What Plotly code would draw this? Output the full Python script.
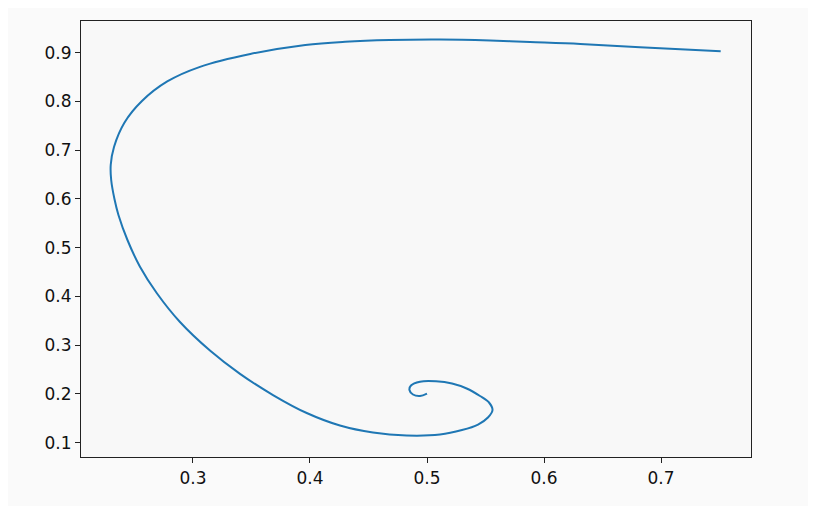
import plotly.graph_objects as go

x_vals = [0.751, 0.682, 0.631, 0.588, 0.554, 0.511, 0.468, 0.430, 0.396, 0.349,
          0.306, 0.278, 0.2564, 0.2415, 0.2325, 0.2297, 0.2301, 0.2329, 0.2363, 0.2440,
          0.2547, 0.2690, 0.2889, 0.3145, 0.3402, 0.3684, 0.3972, 0.4256, 0.4538, 0.4826,
          0.5111, 0.5299, 0.5436, 0.5521, 0.5560, 0.5530, 0.5453, 0.5339, 0.5214, 0.5077,
          0.4940, 0.4863, 0.4850, 0.4880, 0.4940, 0.5000]
y_vals = [0.903, 0.911, 0.918, 0.922, 0.925, 0.927, 0.926, 0.9224, 0.9158, 0.8973,
          0.871, 0.841, 0.8009, 0.7568, 0.7066, 0.6696, 0.6389, 0.5999, 0.5671, 0.5158,
          0.4610, 0.4071, 0.3476, 0.2891, 0.2413, 0.1978, 0.1609, 0.1353, 0.1209, 0.1148,
          0.1168, 0.1260, 0.1373, 0.1517, 0.1671, 0.1825, 0.1958, 0.2112, 0.2214, 0.2259,
          0.2251, 0.2173, 0.2081, 0.1989, 0.1958, 0.2009]

x_ticks = [0.3, 0.4, 0.5, 0.6, 0.7]
y_ticks = [0.1, 0.2, 0.3, 0.4, 0.5, 0.6, 0.7, 0.8, 0.9]

fig = go.Figure(go.Scatter(
    x=x_vals, y=y_vals, mode="lines",
    line=dict(color="#1f77b4", width=2, shape="spline", smoothing=1.0),
    showlegend=False, hoverinfo="skip"))

axis_common = dict(showgrid=False, zeroline=False, showline=True, mirror=True,
                   linecolor="#222222", linewidth=1.2, ticks="outside", ticklen=5,
                   tickcolor="#222222", tickwidth=1,
                   tickfont=dict(family="DejaVu Sans", size=17, color="#111111"))

fig.update_xaxes(range=[0.2043, 0.7769], tickvals=x_ticks,
                 ticktext=[f"{v:.1f}" for v in x_ticks], **axis_common)
fig.update_yaxes(range=[0.0707, 0.965], tickvals=y_ticks,
                 ticktext=[f"{v:.1f}" for v in y_ticks], **axis_common)

fig.update_layout(width=808, height=498,
                  margin=dict(l=73, r=65, t=13, b=49),
                  paper_bgcolor="#fafafa", plot_bgcolor="#f8f8f8")

fig.write_html("out.html")
